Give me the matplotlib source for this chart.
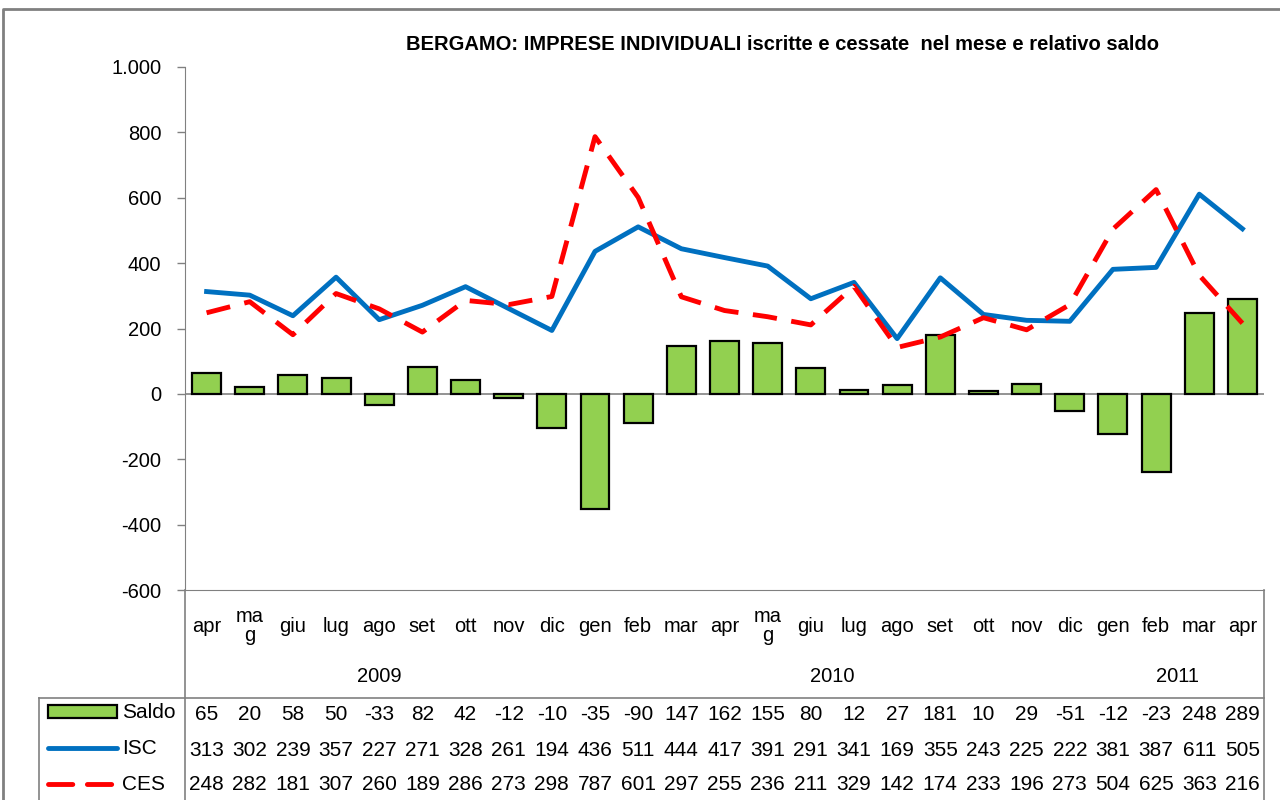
import matplotlib
matplotlib.use("Agg")
import matplotlib.pyplot as plt
from matplotlib.lines import Line2D
from matplotlib.patches import Rectangle
from matplotlib.ticker import FuncFormatter

plt.rcParams['font.family'] = ['Liberation Sans', 'DejaVu Sans']

# data
months = ["apr", "ma\ng", "giu", "lug", "ago", "set", "ott", "nov", "dic",
          "gen", "feb", "mar", "apr", "ma\ng", "giu", "lug", "ago", "set",
          "ott", "nov", "dic", "gen", "feb", "mar", "apr"]
years = ["2009", "2010", "2011"]
year_span = [(0, 8), (9, 20), (21, 24)]
isc = [313, 302, 239, 357, 227, 271, 328, 261, 194, 436, 511, 444, 417,
       391, 291, 341, 169, 355, 243, 225, 222, 381, 387, 611, 505]
ces = [248, 282, 181, 307, 260, 189, 286, 273, 298, 787, 601, 297, 255,
       236, 211, 329, 142, 174, 233, 196, 273, 504, 625, 363, 216]
saldo = [65, 20, 58, 50, -33, 82, 42, -12, -104, -351, -90, 147, 162,
         155, 80, 12, 27, 181, 10, 29, -51, -123, -238, 248, 289]
# the table cells in the original clip some values
saldo_txt = ["65", "20", "58", "50", "-33", "82", "42", "-12", "-10", "-35",
             "-90", "147", "162", "155", "80", "12", "27", "181", "10", "29",
             "-51", "-12", "-23", "248", "289"]

W, H = 1280, 800
fig = plt.figure(figsize=(12.8, 8), dpi=100)

def fx(x):
    return x / W

def fy(y):
    return 1 - y / H

# plot area in pixels
L, R, T, B = 185, 1264, 67, 590
ax = fig.add_axes([fx(L), fy(B), fx(R) - fx(L), fy(T) - fy(B)])

x = list(range(len(months)))
ax.bar(x, saldo, width=0.67, color="#92D050", edgecolor="black", linewidth=1.6, zorder=2)
ax.plot(x, isc, color="#0070C0", linewidth=3.5, zorder=3, solid_joinstyle="round")
ax.plot(x, ces, color="#FF0000", linewidth=3.5, dashes=(5, 3), zorder=3)
ax.axhline(0, color="#808080", linewidth=1.2, zorder=1)

ax.set_xlim(-0.5, len(months) - 0.5)
ax.set_ylim(-600, 1000)
ax.set_yticks(range(-600, 1001, 200))
ax.yaxis.set_major_formatter(FuncFormatter(lambda v, p: f"{int(v):,}".replace(",", ".")))
ax.tick_params(axis="y", labelsize=14.5, length=6, width=1, color="#808080", pad=11)
ax.set_xticks([])
for s in ["top", "right"]:
    ax.spines[s].set_visible(False)
ax.spines["left"].set_color("#808080")
ax.spines["bottom"].set_color("#808080")

fig.text(fx(782), fy(44), "BERGAMO: IMPRESE INDIVIDUALI iscritte e cessate  nel mese e relativo saldo",
         ha="center", va="center", fontsize=14.5, fontweight="bold")

# category / table area
tr = ax.get_xaxis_transform()
def ay(y):
    return (B - y) / (B - T)

fs = 15
for i, m in enumerate(months):
    ax.text(i, ay(626), m, transform=tr, ha="center", va="center", fontsize=14.5,
            linespacing=1.0, clip_on=False)
    ax.text(i, ay(714), saldo_txt[i], transform=tr, ha="center", va="center", fontsize=fs, clip_on=False)
    ax.text(i, ay(750), str(isc[i]), transform=tr, ha="center", va="center", fontsize=fs, clip_on=False)
    ax.text(i, ay(785), str(ces[i]), transform=tr, ha="center", va="center", fontsize=fs, clip_on=False)

for yr, (a, b) in zip(years, year_span):
    ax.text((a + b) / 2, ay(676), yr, transform=tr, ha="center", va="center", fontsize=14.5, clip_on=False)

grey = "#808080"
def fline(xs, ys, **kw):
    fig.add_artist(Line2D([fx(v) for v in xs], [fy(v) for v in ys], **kw))

# outer border
fline([3, 3, 1280], [800, 9, 9], color=grey, linewidth=2)
# table borders
fline([L, L], [B, 800], color=grey, linewidth=1.2)
fline([R, R], [B, 800], color=grey, linewidth=1.2)
fline([39, R], [698, 698], color=grey, linewidth=1.2)
fline([39, 39], [698, 800], color=grey, linewidth=1.2)

# legend keys in the table
fig.add_artist(Rectangle((fx(48), fy(718)), fx(117) - fx(48), fy(705) - fy(718),
                         facecolor="#92D050", edgecolor="black", linewidth=1.6))
fline([48, 117], [748, 748], color="#0070C0", linewidth=3.5, solid_capstyle="round")
fline([48, 117], [784, 784], color="#FF0000", linewidth=3.5, dashes=(5, 3), dash_capstyle="round")
fig.text(fx(122), fy(713), "Saldo", ha="left", va="center", fontsize=fs)
fig.text(fx(122), fy(749), "ISC", ha="left", va="center", fontsize=fs)
fig.text(fx(122), fy(784), "CES", ha="left", va="center", fontsize=fs)

fig.savefig("out.png", dpi=100)
